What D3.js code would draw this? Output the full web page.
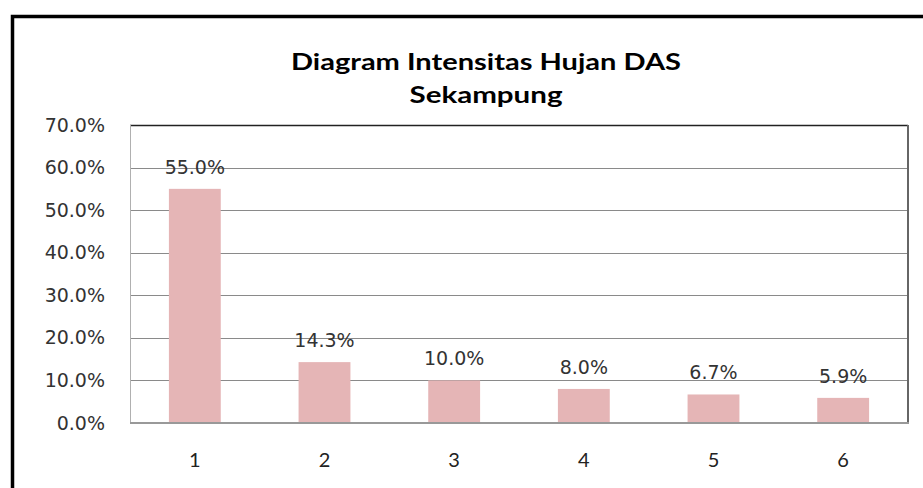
<!DOCTYPE html>
<html>
<head>
<meta charset="utf-8">
<script src="https://cdn.jsdelivr.net/npm/d3@7/dist/d3.min.js"></script>
<style>
  body { margin: 0; background: #fff; }
  svg { display: block; }
</style>
</head>
<body>
<div id="chart"></div>
<script>
// data
var categories = ["1", "2", "3", "4", "5", "6"];
var values = [0.550, 0.143, 0.100, 0.080, 0.067, 0.059];
var yTicks = [0, 0.1, 0.2, 0.3, 0.4, 0.5, 0.6, 0.7];
var titleLines = ["Diagram Intensitas Hujan DAS", "Sekampung"];
var titleWidths = [390, 153];

var width = 923, height = 488;
var plot = { left: 130, right: 908, top: 125, bottom: 423 };

var svg = d3.select("#chart")
    .append("svg")
    .attr("width", width)
    .attr("height", height);

// outer chart frame (only left and top are visible)
svg.append("path")
    .attr("d", "M12.5,500 L12.5,16.5 L930,16.5")
    .attr("fill", "none")
    .attr("stroke", "#000")
    .attr("stroke-width", 3.5);

// title, stretched a little like the original
svg.selectAll(".title")
    .data(titleLines)
    .enter()
    .append("text")
    .attr("class", "title")
    .attr("x", 486)
    .attr("y", function(d, i) { return 70 + i * 33; })
    .attr("text-anchor", "middle")
    .attr("textLength", function(d, i) { return titleWidths[i]; })
    .attr("lengthAdjust", "spacingAndGlyphs")
    .style("font-family", "Lato, 'Open Sans', sans-serif")
    .style("font-weight", "bold")
    .style("font-size", "23px")
    .style("fill", "#000")
    .text(function(d) { return d; });

var x = d3.scaleBand()
    .domain(categories)
    .range([plot.left, plot.right])
    .paddingInner(0.6)
    .paddingOuter(0.3);

var y = d3.scaleLinear()
    .domain([0, 0.7])
    .range([plot.bottom, plot.top]);

var fmt = d3.format(".1%");

// gridlines
svg.append("g")
    .selectAll("line")
    .data(yTicks.slice(1, -1))
    .enter()
    .append("line")
    .attr("x1", plot.left)
    .attr("x2", plot.right)
    .attr("y1", function(d) { return Math.round(y(d)) + 0.5; })
    .attr("y2", function(d) { return Math.round(y(d)) + 0.5; })
    .attr("stroke", "#8a8a8a")
    .attr("stroke-width", 1);

// plot frame
svg.append("line")
    .attr("x1", plot.left).attr("x2", plot.right)
    .attr("y1", plot.top + 0.5).attr("y2", plot.top + 0.5)
    .attr("stroke", "#222").attr("stroke-width", 1.3);
svg.append("line")
    .attr("x1", plot.left + 0.5).attr("x2", plot.left + 0.5)
    .attr("y1", plot.top).attr("y2", plot.bottom)
    .attr("stroke", "#b0b0b0").attr("stroke-width", 1);
svg.append("line")
    .attr("x1", plot.right).attr("x2", plot.right)
    .attr("y1", plot.top).attr("y2", plot.bottom + 1)
    .attr("stroke", "#666").attr("stroke-width", 2);

// bars
svg.append("g")
    .selectAll("rect")
    .data(values)
    .enter()
    .append("rect")
    .attr("x", function(d, i) { return x(categories[i]); })
    .attr("y", function(d) { return y(d); })
    .attr("width", x.bandwidth())
    .attr("height", function(d) { return y(0) - y(d); })
    .attr("fill", "#e5b5b6");

// bottom axis line
svg.append("line")
    .attr("x1", plot.left).attr("x2", plot.right + 1)
    .attr("y1", plot.bottom).attr("y2", plot.bottom)
    .attr("stroke", "#999").attr("stroke-width", 2);

// value labels
svg.append("g")
    .selectAll("text")
    .data(values)
    .enter()
    .append("text")
    .attr("x", function(d, i) { return x(categories[i]) + x.bandwidth() / 2; })
    .attr("y", function(d) { return y(d) - 15; })
    .attr("text-anchor", "middle")
    .style("font-family", "'DejaVu Sans', Verdana, sans-serif")
    .style("font-size", "19px")
    .style("fill", "#333")
    .text(function(d) { return fmt(d); });

// y axis labels
var yAxis = d3.axisLeft(y)
    .tickValues(yTicks)
    .tickFormat(fmt)
    .tickSize(0)
    .tickPadding(25);

var gy = svg.append("g")
    .attr("transform", "translate(" + plot.left + ",0)")
    .call(yAxis);
gy.select(".domain").remove();
gy.selectAll("text")
    .style("font-family", "'DejaVu Sans', Verdana, sans-serif")
    .style("font-size", "19px")
    .style("fill", "#333");

// x axis labels
var xAxis = d3.axisBottom(x)
    .tickSize(0)
    .tickPadding(30);

var gx = svg.append("g")
    .attr("transform", "translate(0," + plot.bottom + ")")
    .call(xAxis);
gx.select(".domain").remove();
gx.selectAll("text")
    .style("font-family", "Lato, 'Open Sans', sans-serif")
    .style("font-size", "20px")
    .style("fill", "#222");
</script>
</body>
</html>
